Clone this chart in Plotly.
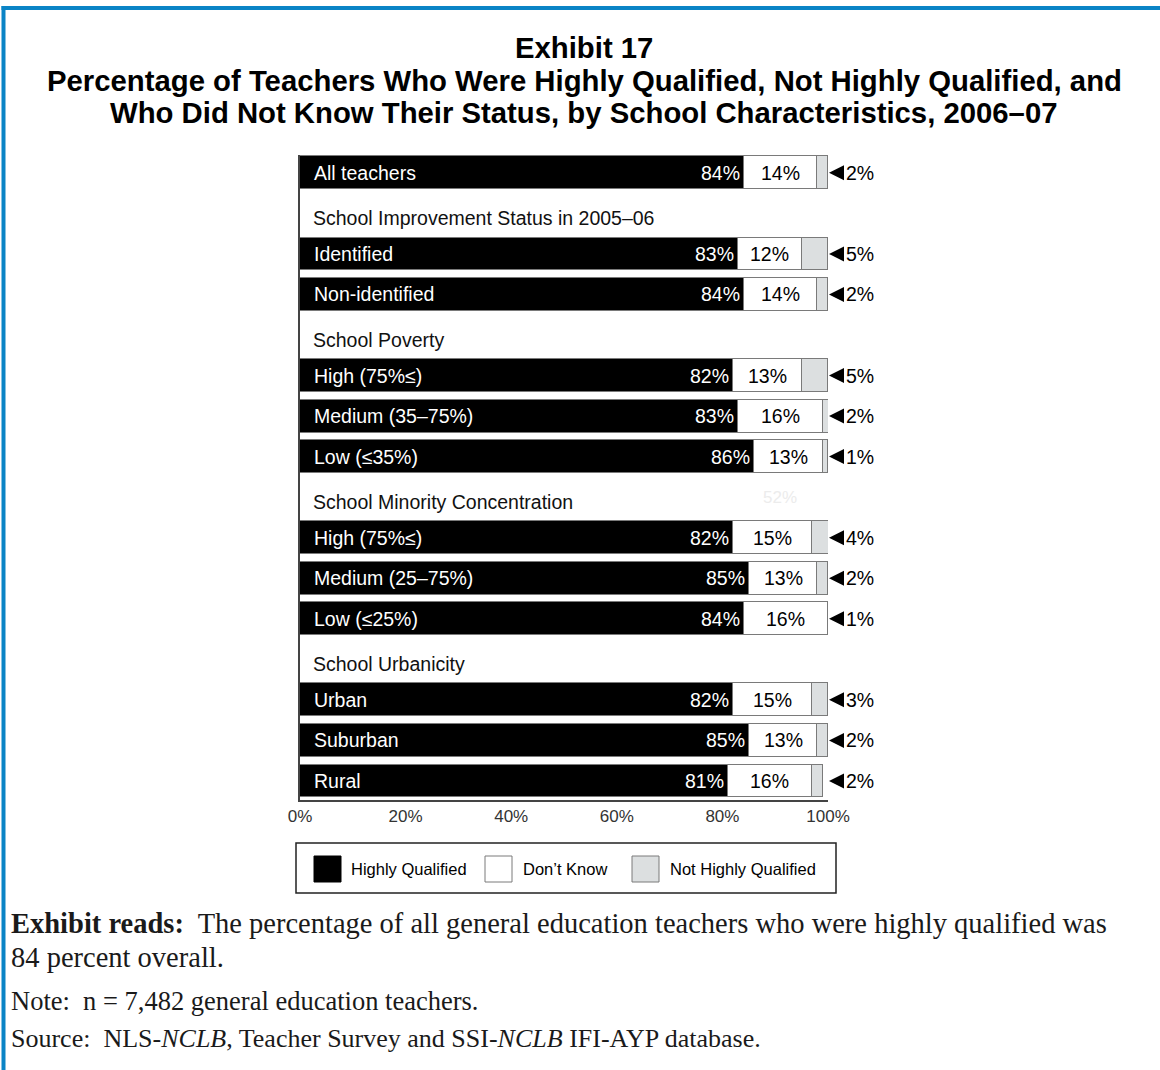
import plotly.graph_objects as go

# ---------------- data ----------------
categories = ["All teachers", "Identified", "Non-identified",
              "High (75%\u2264)", "Medium (35\u201375%)", "Low (\u226435%)",
              "High (75%\u2264)", "Medium (25\u201375%)", "Low (\u226425%)",
              "Urban", "Suburban", "Rural"]
group_headers = ["", "School Improvement Status in 2005\u201306", "School Poverty",
                 "School Minority Concentration", "School Urbanicity"]
group_sizes = [1, 2, 3, 3, 3]
highly_qualified = [84, 83, 84, 82, 83, 86, 82, 85, 84, 82, 85, 81]
dont_know = [14, 12, 14, 13, 16, 13, 15, 13, 16, 15, 13, 16]
not_highly_qualified = [2, 5, 2, 5, 2, 1, 4, 2, 1, 3, 2, 2]
x_ticks = [0, 20, 40, 60, 80, 100]
x_tick_labels = ["0%", "20%", "40%", "60%", "80%", "100%"]
series_names = ["Highly Qualified", "Don\u2019t Know", "Not Highly Qualified"]

# ---------------- layout helpers ----------------
W, H = 1160, 1070
L, R, T, B = 300, 332, 155, 270
PW, PH = W - L - R, H - T - B
def px(x): return (x - L) / PW
def py(y): return (H - B - y) / PH

# row slots (headers take a slot)
bar_pos, header_pos = [], []
slot = 0
for g, n in zip(group_headers, group_sizes):
    if g:
        header_pos.append((slot, g))
        slot += 1
    for _ in range(n):
        bar_pos.append(slot)
        slot += 1
n_slots = slot

C_BLACK, C_WHITE, C_GRAY = "#000000", "#ffffff", "#dcdfe0"
OUTLINE = "#7a7a7a"
SANS = "Liberation Sans, Arial, sans-serif"
SERIF = "Liberation Serif, Times New Roman, serif"
LBL = 19.5

fig = go.Figure()
for vals, color, name in zip([highly_qualified, dont_know, not_highly_qualified],
                             [C_BLACK, C_WHITE, C_GRAY], series_names):
    fig.add_trace(go.Bar(
        y=bar_pos, x=vals, orientation="h", name=name, width=0.81,
        marker=dict(color=color, line=dict(color=OUTLINE, width=1)),
        showlegend=False, hoverinfo="x+name"))

ann = []
for i, p in enumerate(bar_pos):
    ann.append(dict(x=0, y=p, xref="x", yref="y", text=categories[i], showarrow=False,
                    xanchor="left", xshift=12, font=dict(color="white", size=LBL, family=SANS)))
    ann.append(dict(x=highly_qualified[i], y=p, xref="x", yref="y", text=f"{highly_qualified[i]}%",
                    showarrow=False, xanchor="right", xshift=-2,
                    font=dict(color="white", size=LBL, family=SANS)))
    ann.append(dict(x=highly_qualified[i] + dont_know[i] / 2, y=p, xref="x", yref="y",
                    text=f"{dont_know[i]}%", showarrow=False, xanchor="center",
                    font=dict(color="black", size=LBL, family=SANS)))
    # arrow pointer + label for not highly qualified
    ann.append(dict(x=100, y=p, xref="x", yref="y", text="", showarrow=True,
                    ax=14, ay=0, arrowhead=2, arrowsize=1.5, arrowwidth=2,
                    arrowcolor="black", standoff=1))
    ann.append(dict(x=100, y=p, xref="x", yref="y", text=f"{not_highly_qualified[i]}%",
                    showarrow=False, xanchor="left", xshift=16,
                    font=dict(color="black", size=LBL, family=SANS)))
for p, g in header_pos:
    ann.append(dict(x=0, y=p + 0.12, xref="x", yref="y", text=g, showarrow=False,
                    xanchor="left", xshift=11, font=dict(color="#111", size=LBL, family=SANS)))
# faint stray label visible in the original
ann.append(dict(x=91, y=header_pos[2][0], xref="x", yref="y", text="52%", showarrow=False,
                font=dict(color="#ececec", size=17, family=SANS)))

# title
title_lines = ["Exhibit 17",
               "Percentage of Teachers Who Were Highly Qualified, Not Highly Qualified, and",
               "Who Did Not Know Their Status, by School Characteristics, 2006\u201307"]
for yy, t in zip([47, 81, 113], title_lines):
    ann.append(dict(x=px(584), y=py(yy), xref="paper", yref="paper", text=f"<b>{t}</b>",
                    showarrow=False, xanchor="center", yanchor="middle",
                    font=dict(color="black", size=29.3, family=SANS)))

# legend (manual)
shapes = []
shapes.append(dict(type="rect", xref="paper", yref="paper", x0=px(296), x1=px(836),
                   y0=py(893), y1=py(843), line=dict(color="#222", width=1.5), fillcolor="white"))
leg_items = [(314, C_BLACK, 349), (485, C_WHITE, 521), (632, C_GRAY, 668)]
for (sx, col, tx), name in zip(leg_items, series_names):
    shapes.append(dict(type="rect", xref="paper", yref="paper", x0=px(sx), x1=px(sx + 27),
                       y0=py(882), y1=py(856), fillcolor=col,
                       line=dict(color=OUTLINE if col != C_BLACK else "#000", width=1)))
    ann.append(dict(x=px(tx), y=py(869), xref="paper", yref="paper", text=name, showarrow=False,
                    xanchor="left", yanchor="middle", font=dict(color="black", size=16.5, family=SANS)))

# blue frame
shapes.append(dict(type="line", xref="paper", yref="paper", x0=px(3.5), x1=px(3.5),
                   y0=py(6), y1=py(1075), line=dict(color="#0a84c6", width=4)))
shapes.append(dict(type="line", xref="paper", yref="paper", x0=px(1.5), x1=px(1165),
                   y0=py(8), y1=py(8), line=dict(color="#0a84c6", width=4)))

# bottom notes
notes = [(923.5, "<b>Exhibit reads:</b>  The percentage of all general education teachers who were highly qualified was", 28.5),
         (957.5, "84 percent overall.", 28.5),
         (1001, "Note:  n = 7,482 general education teachers.", 26.5),
         (1038, "Source:  NLS-<i>NCLB</i>, Teacher Survey and SSI-<i>NCLB</i> IFI-AYP database.", 26)]
for yy, t, fs in notes:
    ann.append(dict(x=px(9), y=py(yy), xref="paper", yref="paper", text=t, showarrow=False,
                    xanchor="left", yanchor="middle", align="left",
                    font=dict(color="#1a1a1a", size=fs, family=SERIF)))

fig.update_layout(
    width=W, height=H, autosize=False,
    margin=dict(l=L, r=R, t=T, b=B, pad=0),
    barmode="stack", bargap=0,
    paper_bgcolor="white", plot_bgcolor="white",
    annotations=ann, shapes=shapes,
    xaxis=dict(range=[0, 100], tickvals=x_ticks, ticktext=x_tick_labels, showgrid=False,
               zeroline=False, showline=True, linecolor="#444", linewidth=2, ticks="",
               tickfont=dict(size=17, color="#333", family=SANS), fixedrange=True),
    yaxis=dict(range=[n_slots - 1 + 0.47, -0.44], showticklabels=False, showgrid=False,
               zeroline=False, showline=True, linecolor="#444", linewidth=1.5, ticks="",
               fixedrange=True),
    showlegend=False,
)
fig.write_html("out.html")
